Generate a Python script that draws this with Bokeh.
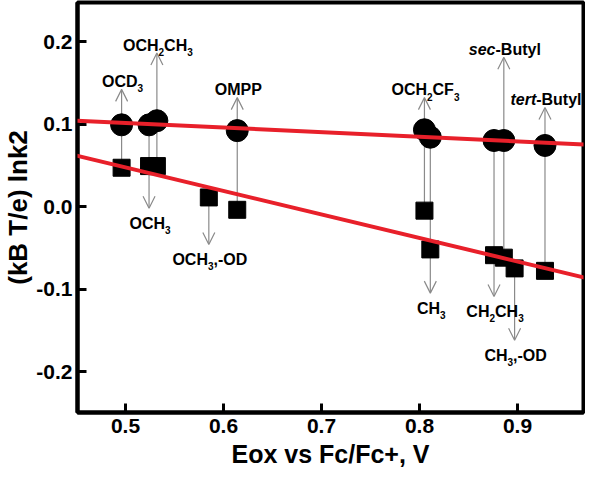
import math
from bokeh.plotting import figure
from bokeh.models import ColumnDataSource, Label, Arrow, OpenHead, Slope, Range1d, FixedTicker
from bokeh.embed import file_html
from bokeh.resources import INLINE

# ---------------- data ----------------
substituents = ["OCD3", "OCH3", "OCH2CH3", "OMPP", "OCH3,-OD", "OCH2CF3",
                "CH3", "CH2CH3", "sec-Butyl", "CH3,-OD", "tert-Butyl"]
e_ox = [0.496, 0.524, 0.532, 0.614, 0.585, 0.805, 0.811, 0.876, 0.886, 0.897, 0.928]
circle_val = [0.099, 0.099, 0.104, 0.092, None, 0.093, 0.084, 0.080, 0.080, None, 0.074]
square_val = [0.047, 0.049, 0.049, -0.004, 0.011, -0.005, -0.052, -0.059, -0.062, -0.075, -0.078]
arrow_tip = [0.142, -0.002, 0.186, 0.132, -0.046, 0.132, -0.105, -0.109, 0.181, -0.162, 0.120]
label_parts = [
    [("OCD", "n"), ("3", "s")],
    [("OCH", "n"), ("3", "s")],
    [("OCH", "n"), ("2", "s"), ("CH", "n"), ("3", "s")],
    [("OMPP", "n")],
    [("OCH", "n"), ("3", "s"), (",-OD", "n")],
    [("OCH", "n"), ("2", "s"), ("CF", "n"), ("3", "s")],
    [("CH", "n"), ("3", "s")],
    [("CH", "n"), ("2", "s"), ("CH", "n"), ("3", "s")],
    [("sec", "i"), ("-Butyl", "n")],
    [("CH", "n"), ("3", "s"), (",-OD", "n")],
    [("tert", "i"), ("-Butyl", "n")],
]
fit_upper = {"slope": -0.056, "intercept": 0.1293}
fit_lower = {"slope": -0.2853, "intercept": 0.1901}
x_ticks = [0.5, 0.6, 0.7, 0.8, 0.9]
x_tick_labels = ["0.5", "0.6", "0.7", "0.8", "0.9"]
y_ticks = [-0.2, -0.1, 0.0, 0.1, 0.2]
y_tick_labels = ["-0.2", "-0.1", "0.0", "0.1", "0.2"]
x_label_text = "Eox vs Fc/Fc+, V"
y_label_text = "(kB T/e) lnk2"

# ---------------- styling helpers ----------------
FONT = "Liberation Sans"
W = {' ': 278, '(': 333, ')': 333, ',': 278, '-': 333, '.': 278, '/': 278, '+': 584,
     'A': 722, 'B': 722, 'C': 722, 'D': 722, 'E': 667, 'F': 611, 'H': 722, 'M': 833,
     'O': 778, 'P': 667, 'T': 611, 'V': 667,
     'a': 556, 'b': 611, 'c': 556, 'e': 556, 'k': 556, 'l': 278, 'n': 611, 'o': 611,
     'r': 389, 's': 556, 't': 333, 'u': 611, 'v': 556, 'x': 556, 'y': 556}
for d in "0123456789":
    W[d] = 556


def adv(s, size):
    return sum(W.get(c, 556) for c in s) * size / 1000.0


def layout(parts, main, sub, drop):
    pieces = []
    pos = 0.0
    for txt, kind in parts:
        size = main if kind in ("n", "i") else sub
        style = "bold italic" if kind == "i" else "bold"
        shift = -drop if kind == "s" else 0.0
        pieces.append((txt, style, size, pos, shift))
        pos += adv(txt, size)
    return pieces, pos


FRAME_W = 506
FRAME_H = 410

p = figure(frame_width=FRAME_W, frame_height=FRAME_H,
           x_range=Range1d(0.451, 0.9673), y_range=Range1d(-0.2497, 0.2473),
           min_border_left=74, min_border_right=2, min_border_top=2, min_border_bottom=66,
           output_backend="svg", toolbar_location=None, title=None)
p.background_fill_color = "white"
p.border_fill_color = "white"
p.outline_line_color = "black"
p.outline_line_width = 4
p.outline_line_alpha = 1.0
p.xgrid.grid_line_color = None
p.ygrid.grid_line_color = None

p.xaxis.ticker = FixedTicker(ticks=x_ticks)
p.yaxis.ticker = FixedTicker(ticks=y_ticks)
p.xaxis.major_label_overrides = dict(zip(x_ticks, x_tick_labels))
p.yaxis.major_label_overrides = dict(zip(y_ticks, y_tick_labels))
for ax in (p.xaxis[0], p.yaxis[0]):
    ax.axis_line_color = "black"
    ax.axis_line_width = 4
    ax.major_tick_in = 9
    ax.major_tick_out = 0
    ax.major_tick_line_width = 3
    ax.major_tick_line_color = "black"
    ax.minor_tick_line_color = None
    ax.major_label_text_font = FONT
    ax.major_label_text_font_style = "bold"
    ax.major_label_text_font_size = "21px"
    ax.major_label_text_color = "black"
    ax.axis_label_text_font = FONT
    ax.axis_label_text_font_style = "bold"
    ax.axis_label_text_color = "black"
p.xaxis.major_label_standoff = 6
p.yaxis.major_label_standoff = 5
p.xaxis.axis_label = x_label_text
p.xaxis.axis_label_text_font_size = "25px"
p.xaxis.axis_label_standoff = 4
p.yaxis.axis_label = y_label_text
p.yaxis.axis_label_text_font_size = "26px"
p.yaxis.axis_label_standoff = 0

# ---------------- arrows ----------------
tails = []
for i in range(len(e_ox)):
    vals = [v for v in (circle_val[i], square_val[i]) if v is not None]
    if arrow_tip[i] > max(vals):
        tails.append(min(vals))
    else:
        tails.append(max(vals))
arrow_src = ColumnDataSource(dict(x0=e_ox, y0=tails, x1=e_ox, y1=arrow_tip))
GRAY = "#8a8a8a"
p.add_layout(Arrow(x_start="x0", y_start="y0", x_end="x1", y_end="y1", source=arrow_src,
                   line_color=GRAY, line_width=1.2, level="underlay",
                   end=OpenHead(size=12, line_color=GRAY, line_width=1.2)))

# ---------------- markers ----------------
cx = [x for x, v in zip(e_ox, circle_val) if v is not None]
cy = [v for v in circle_val if v is not None]
p.scatter(cx, cy, marker="circle", size=22, fill_color="black", line_color="black")
p.scatter(e_ox, square_val, marker="square", size=17, fill_color="black", line_color="black")

# ---------------- fit lines ----------------
RED = "#e8202a"
for fit in (fit_upper, fit_lower):
    p.add_layout(Slope(gradient=fit["slope"], y_intercept=fit["intercept"],
                       line_color=RED, line_width=4))

# ---------------- annotation labels ----------------
for i, parts in enumerate(label_parts):
    pieces, total = layout(parts, 16, 10, 7)
    vals = [v for v in (circle_val[i], square_val[i]) if v is not None]
    up = arrow_tip[i] > max(vals)
    dy = 8 if up else -15
    for core, style, size, pos, shift in pieces:
        p.add_layout(Label(x=e_ox[i], y=arrow_tip[i], x_units="data", y_units="data",
                           x_offset=pos - total / 2 + 1, y_offset=dy + shift, text=core,
                           text_font=FONT, text_font_style=style, text_font_size=f"{size}px",
                           text_color="black", text_align="left", text_baseline="alphabetic"))

open("out.html", "w").write(file_html(p, INLINE))
